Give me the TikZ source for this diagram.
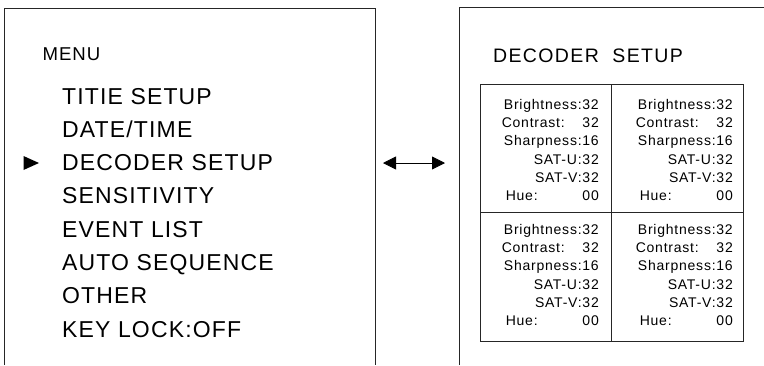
\documentclass[tikz,border=0pt]{standalone}
\usepackage{fontspec}
\setmainfont{Liberation Sans}
\newfontfamily\menufont[LetterSpace=5]{Liberation Sans}
\newfontfamily\titlefont[LetterSpace=7]{Liberation Sans}
\newfontfamily\cellfont[LetterSpace=5.5]{Liberation Sans}
\usetikzlibrary{arrows.meta,positioning}

\begin{document}
\begin{tikzpicture}[x=1pt,y=-1pt,>={Triangle[length=13pt,width=13pt]}]
  \tikzstyle{frame}=[draw=black!85,line width=0.9pt]
  \tikzstyle{item}=[anchor=base west,inner sep=0pt,font=\menufont\fontsize{23}{23}\selectfont]
  \tikzstyle{cell}=[anchor=north east,inner sep=0pt,text width=97pt,align=right,
    font=\cellfont\fontsize{14}{18.3}\selectfont]

  \useasboundingbox (0,0) rectangle (764,365);

  %% screens
  \draw[frame] (4,365) |- (375,8) -- (375,365);
  \draw[frame] (459,365) |- (764,7);

  %% menu screen
  \node[item,font=\menufont\fontsize{18.6}{18.6}\selectfont] (menu) at (42.5,60) {MENU};
  \foreach \t [count=\i] in {TITIE SETUP,DATE/TIME,DECODER SETUP,SENSITIVITY,EVENT LIST,AUTO SEQUENCE,OTHER,KEY LOCK:OFF}
    \node[item] (m\i) at (62,{104+33.33*(\i-1)}) {\t};
  \fill (23.5,156) -- (39,163) -- (23.5,170) -- cycle;

  %% link
  \coordinate (al) at (383,163);
  \coordinate (ar) at (445,163);
  \draw[<->,line width=0.8pt] (al) -- (ar);

  %% decoder screen
  \node[anchor=base west,inner sep=0pt,font=\titlefont\fontsize{19.5}{19.5}\selectfont] (title) at (493,62) {DECODER\ \ SETUP};
  \draw[frame] (480,84) rectangle (743,341) (611,84) -- (611,341) (480,212) -- (743,212);
  \foreach \x/\y [count=\i] in {599/98.8,733/98.8,599/223.8,733/223.8}
    \node[cell] (c\i) at (\x,\y) {Brightness:32\\Contrast:\hspace{0pt plus 1fill}32\\Sharpness:16\\SAT-U:32\\SAT-V:32\\\hspace*{4pt}Hue:\hspace{0pt plus 1fill}00};
\end{tikzpicture}
\end{document}
